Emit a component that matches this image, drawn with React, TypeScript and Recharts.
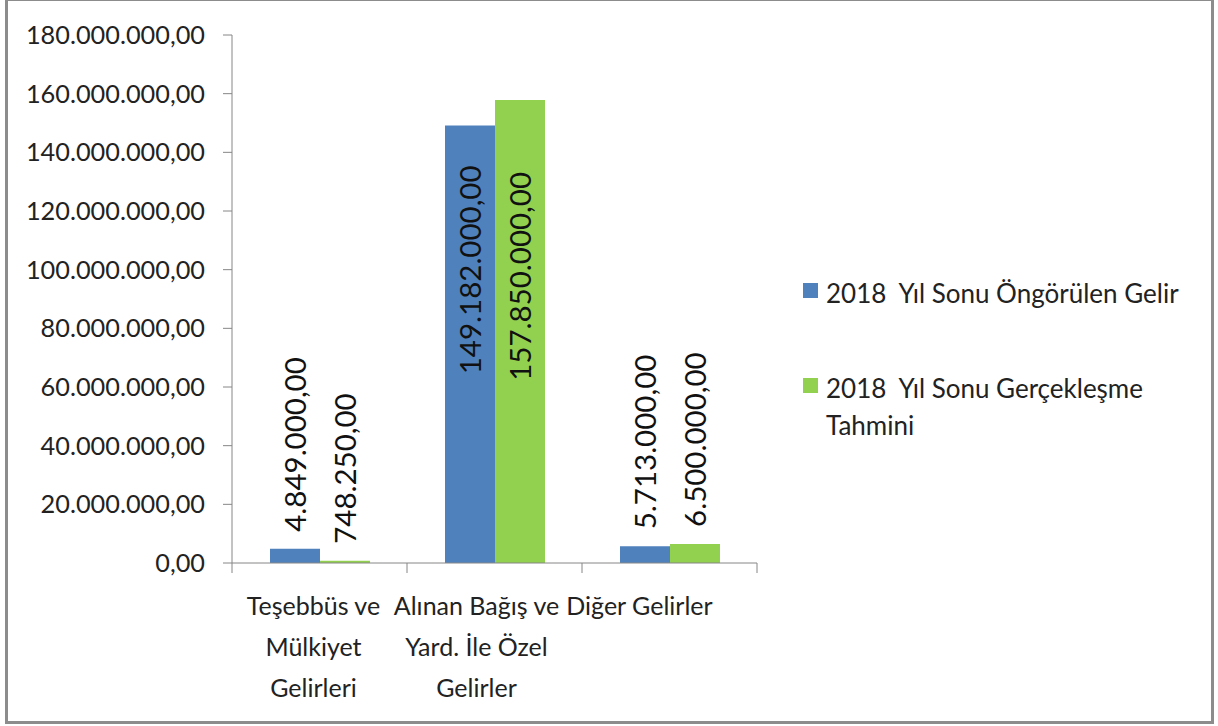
import { BarChart, Bar, XAxis, YAxis, Legend, LabelList } from 'recharts'

const categories = ['Teşebbüs ve Mülkiyet Gelirleri', 'Alınan Bağış ve Yard. İle Özel Gelirler', 'Diğer Gelirler']
const categoryLines = [
  ['Teşebbüs ve', 'Mülkiyet', 'Gelirleri'],
  ['Alınan Bağış ve', 'Yard. İle Özel', 'Gelirler'],
  ['Diğer Gelirler'],
]
const ongorulen = [4849000, 149182000, 5713000]
const gerceklesme = [748250, 157850000, 6500000]
const yTicks = [0, 20000000, 40000000, 60000000, 80000000, 100000000, 120000000, 140000000, 160000000, 180000000]
const seriesNames = ['2018  Yıl Sonu Öngörülen Gelir', '2018  Yıl Sonu Gerçekleşme Tahmini']
const colors = ['#4f81bd', '#92d050']

const data = categories.map((c, i) => ({ name: c, ongorulen: ongorulen[i], gerceklesme: gerceklesme[i] }))

const W = 1218
const H = 726
const margin = { top: 35, right: 461, bottom: 0, left: 0 }
const yAxisWidth = 232
const bandWidth = (W - margin.left - margin.right - yAxisWidth) / categories.length
const font = 'Lato, "Liberation Sans", sans-serif'
const axisColor = '#868686'

function fmt(v: number) {
  const [i, d] = v.toFixed(2).split('.')
  return i.replace(/\B(?=(\d{3})+(?!\d))/g, '.') + ',' + d
}

function CategoryTick(props: any) {
  const { x, y, index } = props
  const lines = categoryLines[index] || []
  const shift = -(6 + 12 * index)
  return (
    <g>
      <line x1={x - bandWidth / 2} x2={x - bandWidth / 2} y1={y} y2={y + 10} stroke={axisColor} />
      {index === categories.length - 1 && (
        <line x1={x + bandWidth / 2} x2={x + bandWidth / 2} y1={y} y2={y + 10} stroke={axisColor} />
      )}
      {lines.map((l, i) => (
        <text key={i} x={x + shift} y={y + 42 + i * 41} textAnchor="middle" dominantBaseline="central"
          fontFamily={font} fontSize={25} fill="#222">{l}</text>
      ))}
    </g>
  )
}

function makeLabel(insetOffset: number) {
  return (props: any) => {
    const { x, y, width, height, value } = props
    const cx = x + width / 2
    const inside = height > 300
    const ty = inside ? y + insetOffset : y - 17
    return (
      <text x={cx} y={ty} transform={`rotate(-90, ${cx}, ${ty})`} textAnchor={inside ? 'end' : 'start'}
        dominantBaseline="central" fontFamily={font} fontSize={29.5} fill="#111">{fmt(value)}</text>
    )
  }
}

function LegendContent() {
  return (
    <div style={{ fontFamily: font, fontSize: 26, color: '#222' }}>
      {seriesNames.map((n, i) => (
        <div key={n} style={{ display: 'flex', alignItems: 'flex-start', marginBottom: 58 }}>
          <div style={{ width: 15, height: 15, background: colors[i], marginTop: 8, marginRight: 8, flex: 'none' }} />
          <div style={{ whiteSpace: 'pre-wrap', lineHeight: '37px', width: 370 }}>{n}</div>
        </div>
      ))}
    </div>
  )
}

export default function App() {
  return (
    <div style={{ position: 'absolute', left: 0, top: 0, width: W, height: H, background: '#fff' }}>
      <div style={{ position: 'absolute', left: 5, top: -2, width: 1209, height: 726, border: '3px solid #8c8c8c', boxSizing: 'border-box' }} />
      <BarChart width={W} height={H} data={data} margin={margin} barSize={50} barGap={0}>
        <YAxis domain={[0, 180000000]} ticks={yTicks} width={yAxisWidth} tickFormatter={fmt}
          tickSize={9} tickMargin={18} stroke={axisColor}
          tick={{ fontFamily: font, fontSize: 25.3, fill: '#222' }} />
        <XAxis dataKey="name" height={163} interval={0} tickSize={0} tickMargin={0} stroke={axisColor}
          tick={<CategoryTick />} />
        <Legend layout="vertical" align="center" verticalAlign="middle" content={<LegendContent />}
          wrapperStyle={{ left: 803, top: 275, width: 400, height: 200 }} />
        <Bar dataKey="ongorulen" name={seriesNames[0]} fill={colors[0]} isAnimationActive={false}>
          <LabelList dataKey="ongorulen" content={makeLabel(40)} />
        </Bar>
        <Bar dataKey="gerceklesme" name={seriesNames[1]} fill={colors[1]} isAnimationActive={false}>
          <LabelList dataKey="gerceklesme" content={makeLabel(72)} />
        </Bar>
      </BarChart>
    </div>
  )
}
